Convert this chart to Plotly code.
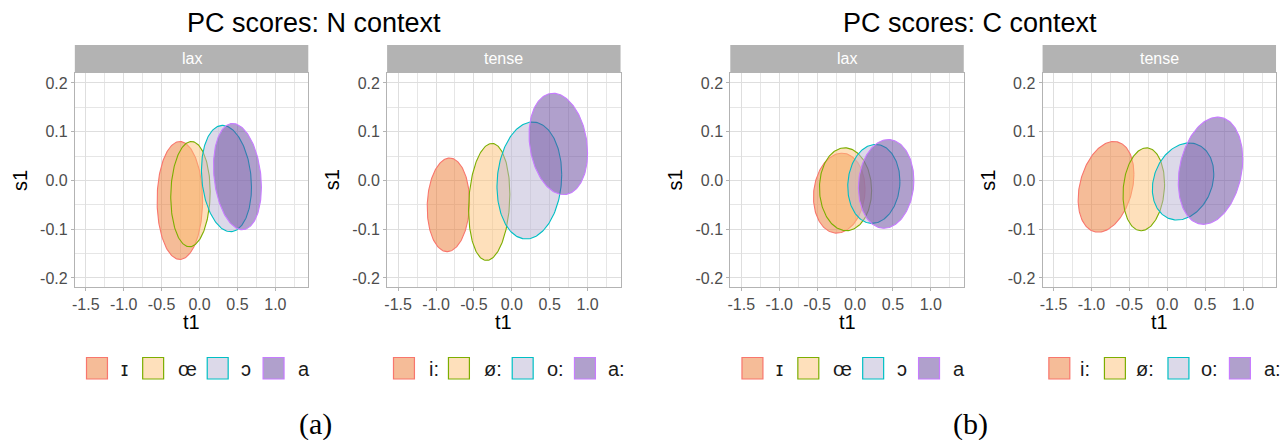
import numpy as np
import plotly.graph_objects as go

W, H = 1287, 440

# ---------------- data (ellipse summaries) ----------------
LAX_LABELS = ["ɪ", "œ", "ɔ", "a"]
TENSE_LABELS = ["i:", "ø:", "o:", "a:"]

# N context, lax
N_LAX_T1 = [-0.26, -0.12, 0.355, 0.50]
N_LAX_S1 = [-0.041, -0.028, 0.004, 0.008]
N_LAX_T1_HALF = [0.30, 0.26, 0.33, 0.316]
N_LAX_S1_HALF = [0.121, 0.108, 0.109, 0.109]
N_LAX_RHO = [0.0, 0.05, -0.16, -0.20]

# N context, tense
N_TENSE_T1 = [-0.837, -0.298, 0.231, 0.613]
N_TENSE_S1 = [-0.050, -0.044, 0.0, 0.075]
N_TENSE_T1_HALF = [0.279, 0.272, 0.427, 0.386]
N_TENSE_S1_HALF = [0.096, 0.120, 0.120, 0.104]
N_TENSE_RHO = [0.06, 0.13, 0.10, -0.18]

# C context, lax
C_LAX_T1 = [-0.208, -0.125, 0.248, 0.41]
C_LAX_S1 = [-0.026, -0.018, -0.007, -0.007]
C_LAX_T1_HALF = [0.34, 0.344, 0.344, 0.366]
C_LAX_S1_HALF = [0.082, 0.085, 0.081, 0.091]
C_LAX_RHO = [0.10, -0.03, 0.07, 0.08]

# C context, tense
C_TENSE_T1 = [-0.808, -0.31, 0.208, 0.57]
C_TENSE_S1 = [-0.013, -0.018, -0.002, 0.020]
C_TENSE_T1_HALF = [0.368, 0.274, 0.405, 0.425]
C_TENSE_S1_HALF = [0.093, 0.085, 0.079, 0.110]
C_TENSE_RHO = [0.28, 0.13, 0.20, 0.22]

X_TICKS = [-1.5, -1.0, -0.5, 0.0, 0.5, 1.0]
X_TICK_LABELS = ["-1.5", "-1.0", "-0.5", "0.0", "0.5", "1.0"]
X_MINOR = [-1.25, -0.75, -0.25, 0.25, 0.75, 1.25]
Y_TICKS = [-0.2, -0.1, 0.0, 0.1, 0.2]
Y_TICK_LABELS = ["-0.2", "-0.1", "0.0", "0.1", "0.2"]
Y_MINOR = [-0.15, -0.05, 0.05, 0.15]

# ---------------- styles ----------------
OUTLINE = ["#F8766D", "#7CAE00", "#00BFC4", "#C77CFF"]
FILL = ["rgba(235,121,49,0.5)", "rgba(253,193,119,0.5)",
        "rgba(185,179,211,0.5)", "rgba(97,65,153,0.5)"]
KEY_FILL = ["#F5BC98", "#FEE0BB", "#DCD9E9", "#B0A0CC"]

def px(x):
    return x / W

def py(y):
    return 1 - y / H

PANEL_LEFT = [72, 385, 729, 1042]
PANEL_W = 234
PANEL_TOP, PANEL_BOT = 73, 287
STRIP_TOP = 45

panels = [
    ("lax", LAX_LABELS, N_LAX_T1, N_LAX_S1, N_LAX_T1_HALF, N_LAX_S1_HALF, N_LAX_RHO),
    ("tense", TENSE_LABELS, N_TENSE_T1, N_TENSE_S1, N_TENSE_T1_HALF, N_TENSE_S1_HALF, N_TENSE_RHO),
    ("lax", LAX_LABELS, C_LAX_T1, C_LAX_S1, C_LAX_T1_HALF, C_LAX_S1_HALF, C_LAX_RHO),
    ("tense", TENSE_LABELS, C_TENSE_T1, C_TENSE_S1, C_TENSE_T1_HALF, C_TENSE_S1_HALF, C_TENSE_RHO),
]

fig = go.Figure()
theta = np.linspace(0, 2 * np.pi, 181)
shapes = []
annotations = []
FONT = "Liberation Sans, Arial, sans-serif"

for i, (strip, labels, cx, cy, rx, ry, rho) in enumerate(panels):
    n = "" if i == 0 else str(i + 1)
    for k in range(4):
        x = cx[k] + rx[k] * np.cos(theta)
        y = cy[k] + ry[k] * (rho[k] * np.cos(theta) + np.sqrt(1 - rho[k] ** 2) * np.sin(theta))
        fig.add_trace(go.Scatter(
            x=x, y=y, mode="lines", fill="toself", fillcolor=FILL[k],
            line=dict(color=OUTLINE[k], width=1.1), name=labels[k],
            showlegend=False, hoverinfo="skip",
            xaxis="x" + n, yaxis="y" + n))
    l = PANEL_LEFT[i]
    common = dict(showline=True, linecolor="#B3B3B3", linewidth=1, mirror=True,
                  showgrid=True, gridcolor="#DEDEDE", gridwidth=1, zeroline=False,
                  ticks="outside", ticklen=3, tickcolor="#B3B3B3", tickwidth=1,
                  tickfont=dict(family=FONT, size=16, color="#4D4D4D"))
    fig.layout["xaxis" + n] = dict(
        domain=[px(l), px(l + PANEL_W)], range=[-1.645, 1.434], anchor="y" + n,
        tickmode="array", tickvals=X_TICKS, ticktext=X_TICK_LABELS,
        minor=dict(tickmode="array", tickvals=X_MINOR, showgrid=True,
                   gridcolor="#E6E6E6", gridwidth=0.8, ticks=""),
        **common)
    fig.layout["yaxis" + n] = dict(
        domain=[py(PANEL_BOT), py(PANEL_TOP)], range=[-0.2185, 0.2205], anchor="x" + n,
        tickmode="array", tickvals=Y_TICKS, ticktext=Y_TICK_LABELS,
        minor=dict(tickmode="array", tickvals=Y_MINOR, showgrid=True,
                   gridcolor="#E6E6E6", gridwidth=0.8, ticks=""),
        **common)
    # strip
    shapes.append(dict(type="rect", xref="paper", yref="paper",
                       x0=px(l), x1=px(l + PANEL_W), y0=py(PANEL_TOP), y1=py(STRIP_TOP),
                       fillcolor="#B3B3B3", line=dict(width=0)))
    annotations.append(dict(text=strip, xref="paper", yref="paper",
                            x=px(l + PANEL_W / 2), y=py(59), showarrow=False,
                            xanchor="center", yanchor="middle",
                            font=dict(family=FONT, size=16, color="white")))
    # axis titles
    annotations.append(dict(text="s1", xref="paper", yref="paper",
                            x=px(l - 55), y=py(180), showarrow=False, textangle=-90,
                            xanchor="center", yanchor="middle",
                            font=dict(family=FONT, size=20, color="black")))
    annotations.append(dict(text="t1", xref="paper", yref="paper",
                            x=px(l + PANEL_W / 2), y=py(322), showarrow=False,
                            xanchor="center", yanchor="middle",
                            font=dict(family=FONT, size=20, color="black")))

# legends
KEY_X = [
    [83.7, 140, 204.7, 260.7],
    [391.4, 446.5, 510.4, 572.8],
    [740.7, 796.7, 861.7, 917.7],
    [1048.3, 1104, 1167.7, 1229.3],
]
LABEL_X = [
    [117.3, 174.7, 238, 294.2],
    [425.5, 481, 544, 605.3],
    [774.3, 831, 895, 951.7],
    [1079, 1135, 1200, 1263.3],
]
for i, (strip, labels, *_rest) in enumerate(panels):
    for k in range(4):
        x0 = KEY_X[i][k]
        shapes.append(dict(type="rect", xref="paper", yref="paper",
                           x0=px(x0), x1=px(x0 + 21), y0=py(379), y1=py(357.5),
                           fillcolor=KEY_FILL[k], line=dict(color=OUTLINE[k], width=1.2)))
        annotations.append(dict(text=labels[k], xref="paper", yref="paper",
                                x=px(LABEL_X[i][k] - 1), y=py(368.5), showarrow=False,
                                xanchor="left", yanchor="middle",
                                font=dict(family=FONT, size=20, color="#1A1A1A")))

# titles & captions
for cx_t, title, cap in [(312, "PC scores: N context", "(a)"), (969, "PC scores: C context", "(b)")]:
    annotations.append(dict(text=title, xref="paper", yref="paper", x=px(cx_t), y=py(23),
                            showarrow=False, xanchor="center", yanchor="middle",
                            font=dict(family=FONT, size=27, color="black")))
    annotations.append(dict(text=cap, xref="paper", yref="paper", x=px(cx_t + 1), y=py(424),
                            showarrow=False, xanchor="center", yanchor="middle",
                            font=dict(family="Liberation Serif, Times New Roman, serif",
                                      size=30, color="black")))

fig.update_layout(width=W, height=H, margin=dict(l=0, r=0, t=0, b=0),
                  paper_bgcolor="white", plot_bgcolor="white",
                  shapes=shapes, annotations=annotations, showlegend=False)

fig.write_html("out.html", config={"displayModeBar": False},
               post_script="document.body.style.margin='0';document.body.style.padding='0';"
                           "document.body.style.overflow='hidden';")
